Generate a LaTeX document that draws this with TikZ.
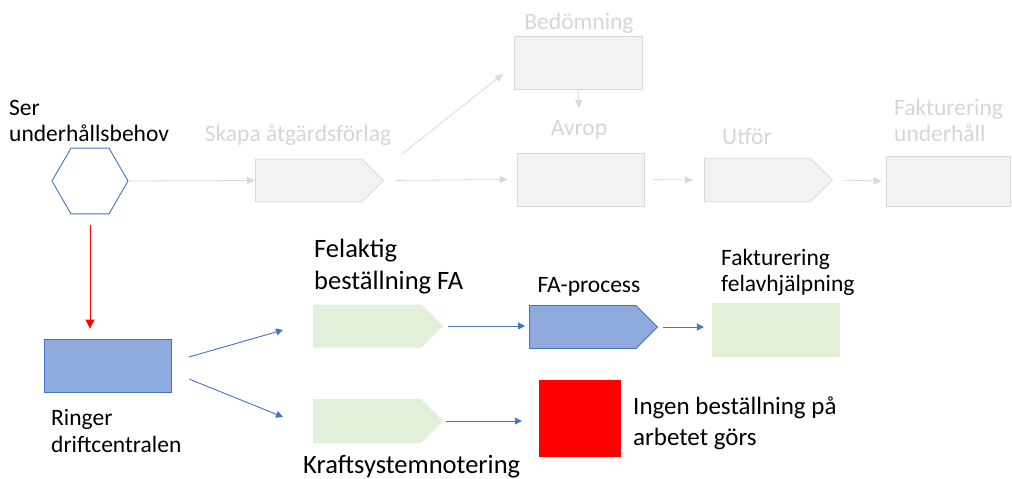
\documentclass[tikz,border=0pt]{standalone}
\usepackage{fontspec}
\setmainfont{Carlito}
\usepackage{tikz}
\usetikzlibrary{shapes.geometric,shapes.symbols,arrows.meta,calc}

\definecolor{grayfill}{HTML}{F2F2F2}
\definecolor{grayline}{HTML}{D9D9D9}
\definecolor{graytext}{HTML}{D6D6D6}
\definecolor{blueline}{HTML}{4472C4}
\definecolor{bluefill}{HTML}{8FAADC}
\definecolor{greenfill}{HTML}{E2F0D9}
\definecolor{redfill}{HTML}{FF0000}

\tikzset{
  box/.style={rectangle,inner sep=0pt},
  arrowbox/.style={signal,signal to=east,signal pointer angle=90,inner sep=0pt,anchor=west},
  oldbox/.style={draw=grayline,fill=grayfill,line width=0.8pt},
  bluebox/.style={draw=blueline,fill=bluefill,line width=0.9pt},
  oldlabel/.style={text=graytext,font=\fontsize{23.5}{26.5}\selectfont,inner sep=0pt},
  newlabel/.style={font=\fontsize{23.5}{26.5}\selectfont,inner sep=0pt,align=left},
  biglabel/.style={font=\fontsize{26.5}{32}\selectfont,inner sep=0pt,align=left},
  oldarrow/.style={draw=grayline,line width=0.8pt,-{Triangle[length=8pt,width=7pt]}},
  newarrow/.style={draw=blueline,line width=0.9pt,-{Triangle[length=7pt,width=7pt]}},
}

\begin{document}
\begin{tikzpicture}[x=1pt,y=-1pt]
  \useasboundingbox (0,0) rectangle (1012,479);

  % upper, greyed-out process
  \node[regular polygon,regular polygon sides=6,minimum size=76pt,draw=blueline,line width=0.9pt,fill=white,inner sep=0pt] (hex) at (90,181) {};
  \node[newlabel,anchor=west] (serlabel) at (9,121) {Ser\\underhållsbehov};

  \node[arrowbox,oldbox,minimum width=128pt,minimum height=43pt] (skapa) at (255,180.5) {};
  \node[oldlabel] (skapalabel) at (298,135) {Skapa åtgärdsförlag};

  \node[box,oldbox,minimum width=128pt,minimum height=53pt] (bedom) at (578,62.5) {};
  \node[oldlabel] (bedomlabel) at (579,23) {Bedömning};

  \node[box,oldbox,minimum width=127pt,minimum height=53pt] (avrop) at (580.5,179.5) {};
  \node[oldlabel] (avroplabel) at (579,130) {Avrop};

  \node[arrowbox,oldbox,minimum width=128pt,minimum height=44pt] (utfor) at (704,180) {};
  \node[oldlabel] (utforlabel) at (747,137) {Utför};

  \node[box,oldbox,minimum width=124pt,minimum height=50pt] (faktu) at (948,181) {};
  \node[oldlabel,anchor=west,align=left] (faktulabel) at (894,120.5) {Fakturering\\underhåll};

  \coordinate (diagstart) at (402,154);
  \coordinate (diagend) at (503,74);
  \coordinate (bedomend) at (579,108);

  \draw[oldarrow] (hex.east) -- (skapa.west);
  \draw[oldarrow] (diagstart) -- (diagend);
  \draw[oldarrow,shorten <=12pt,shorten >=9pt] (skapa.east) -- (avrop.west);
  \draw[oldarrow] (bedom.south) -- (bedomend);
  \draw[oldarrow,shorten <=9pt,shorten >=11pt] (avrop.east) -- (utfor.west);
  \draw[oldarrow,shorten <=11pt,shorten >=4pt] (utfor.east) -- (faktu.west);

  % fault report path
  \node[box,bluebox,minimum width=127pt,minimum height=53pt] (ringer) at (107.5,365.5) {};
  \node[newlabel,anchor=west] (ringerlabel) at (51,431) {Ringer\\driftcentralen};

  \node[arrowbox,fill=greenfill,minimum width=130pt,minimum height=43pt] (felaktig) at (313,326) {};
  \node[biglabel,anchor=west] (felaktiglabel) at (314,267) {Felaktig\\beställning FA};

  \node[arrowbox,fill=greenfill,minimum width=130pt,minimum height=44pt] (kraft) at (313,421) {};
  \node[biglabel,anchor=west] (kraftlabel) at (303,467) {Kraftsystemnotering};

  \node[arrowbox,bluebox,minimum width=128pt,minimum height=43pt] (faproc) at (529,327) {};
  \node[newlabel] (faproclabel) at (589,287) {FA-process};

  \node[box,fill=greenfill,minimum width=128pt,minimum height=54pt] (faktfel) at (776,330) {};
  \node[newlabel,anchor=west] (faktfellabel) at (721,272.5) {Fakturering\\felavhjälpning};

  \node[box,fill=redfill,minimum width=82pt,minimum height=77pt] (ingen) at (580,418.5) {};
  \node[biglabel,font=\fontsize{25}{31}\selectfont,anchor=west] (ingenlabel) at (633,423.5) {Ingen beställning på\\arbetet görs};

  \coordinate (upstart) at (189,357);
  \coordinate (upend) at (283,330);
  \coordinate (downstart) at (189,379);
  \coordinate (downend) at (283,417);

  \draw[draw=redfill,line width=0.9pt,-{Triangle[length=9pt,width=9pt]},shorten <=11pt,shorten >=10pt] (hex.south) -- (hex.south |- ringer.north);
  \draw[newarrow] (upstart) -- (upend);
  \draw[newarrow] (downstart) -- (downend);
  \draw[newarrow,shorten <=5pt,shorten >=4pt] (felaktig.east) -- (felaktig.east -| faproc.west);
  \draw[newarrow,shorten <=5pt,shorten >=8pt] (faproc.east) -- (faproc.east -| faktfel.west);
  \draw[newarrow,shorten <=3pt,shorten >=17pt] (kraft.east) -- (kraft.east -| ingen.west);
\end{tikzpicture}
\end{document}
